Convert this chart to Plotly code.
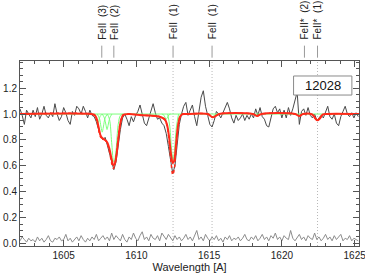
import numpy as np
import plotly.graph_objects as go

# ---------------- data ----------------
flux = [1.04,0.99,0.92,1.03,1.00,0.97,1.03,0.98,1.05,0.96,
        1.00,1.06,0.99,0.97,1.01,0.98,1.08,1.00,0.95,0.98,
        1.05,1.01,0.95,0.92,1.02,0.99,1.06,1.04,1.00,1.06,
        1.02,0.97,1.03,0.99,0.98,0.94,0.88,0.83,0.80,0.82,
        0.76,0.70,0.62,0.57,0.63,0.76,0.88,0.97,1.00,0.96,
        0.91,0.98,0.94,0.99,1.02,1.07,0.99,0.93,0.91,0.97,
        1.03,1.08,1.01,0.96,0.97,0.93,0.91,0.85,0.75,0.63,
        0.54,0.60,0.76,0.92,1.00,1.06,1.09,0.99,1.03,1.07,
        0.98,0.91,1.02,1.13,1.18,1.06,0.99,0.92,0.90,0.95,
        1.02,1.00,0.97,1.01,1.04,1.09,1.04,0.97,0.93,0.99,
        0.95,0.97,1.00,0.95,0.99,0.96,1.00,0.97,1.04,0.99,
        1.05,0.98,0.96,0.91,0.90,0.97,1.04,1.06,1.01,1.04,
        0.97,1.03,0.97,1.05,0.99,1.04,1.10,1.17,0.92,1.02,
        1.04,0.99,1.05,0.99,0.97,1.00,0.95,0.97,0.99,0.97,
        1.02,1.06,0.98,0.96,1.00,0.93,0.91,0.98,1.02,1.06,
        1.00,0.98,1.01,0.97,1.01,0.98]
error = [0.02,0.05,0.03,0.01,0.04,0.02,0.03,0.01,0.05,0.02,0.04,0.01,0.03,0.06,0.02,0.01,0.04,0.03,0.05,0.02,
         0.03,0.07,0.02,0.04,0.01,0.03,0.05,0.02,0.06,0.03,0.01,0.04,0.02,0.05,0.03,0.07,0.02,0.04,0.06,0.03,
         0.05,0.02,0.08,0.03,0.06,0.04,0.02,0.07,0.03,0.01,0.05,0.03,0.08,0.04,0.02,0.06,0.09,0.03,0.05,0.02,
         0.07,0.04,0.03,0.06,0.02,0.08,0.05,0.03,0.07,0.04,0.02,0.06,0.03,0.05,0.02,0.04,0.07,0.03,0.05,0.02,
         0.06,0.10,0.03,0.05,0.02,0.07,0.04,0.02,0.05,0.03,0.06,0.02,0.04,0.01,0.05,0.03,0.06,0.02,0.04,0.03,
         0.05,0.02,0.04,0.07,0.03,0.02,0.05,0.03,0.06,0.02,0.04,0.07,0.03,0.05,0.02,0.06,0.04,0.08,0.03,0.05,
         0.02,0.06,0.04,0.03,0.10,0.04,0.02,0.05,0.07,0.03,0.05,0.02,0.06,0.04,0.03,0.08,0.03,0.05,0.02,0.04,
         0.07,0.03,0.05,0.02,0.06,0.03,0.05,0.07,0.02,0.04,0.03,0.06,0.02,0.04,0.03,0.02]
n = min(len(flux), len(error))
flux, error = flux[:n], error[:n]
wave = list(np.round(1602.0 + 0.15 * np.arange(n), 2))

model_wave = [1602.0,1606.9,1607.1,1607.25,1607.4,1607.55,1607.7,1607.85,1608.0,1608.15,1608.3,1608.42,
              1608.5,1608.6,1608.75,1608.9,1609.05,1609.2,1609.5,1610.5,1611.3,1611.7,1611.95,1612.1,
              1612.25,1612.38,1612.5,1612.6,1612.72,1612.85,1613.0,1613.15,1613.4,1614.9,1615.1,1615.25,
              1615.45,1615.7,1618.0,1618.3,1618.6,1620.9,1621.2,1621.45,1622.1,1622.3,1622.45,1622.6,
              1622.8,1623.0,1625.3]
model_flux = [1.0,1.0,0.995,0.97,0.90,0.83,0.81,0.80,0.78,0.73,0.65,0.605,
              0.61,0.66,0.80,0.93,0.985,0.997,1.0,0.99,0.985,0.975,0.96,0.92,
              0.82,0.69,0.62,0.64,0.76,0.90,0.98,0.998,1.0,1.0,0.985,0.975,
              0.985,1.0,1.0,0.985,1.0,1.0,0.985,1.0,0.995,0.965,0.952,0.965,
              0.995,1.0,1.0]
model2_flux = [1.0,1.0,0.99,0.96,0.88,0.82,0.81,0.80,0.77,0.71,0.62,0.58,
               0.60,0.67,0.81,0.94,0.99,1.0,1.0,0.99,0.985,0.975,0.955,0.91,
               0.79,0.63,0.53,0.57,0.73,0.89,0.98,1.0,1.0,1.0,0.985,0.975,
               0.985,1.0,1.0,0.985,1.0,1.0,0.985,1.0,0.995,0.965,0.952,0.965,
               0.995,1.0,1.0]

comp_waves = [
    [1607.05,1607.2,1607.3,1607.35,1607.4,1607.5,1607.65],
    [1607.3,1607.45,1607.57,1607.65,1607.73,1607.85,1608.0],
    [1607.65,1607.8,1607.92,1607.98,1608.05,1608.17,1608.32],
    [1608.0,1608.15,1608.3,1608.42,1608.47,1608.6,1608.75,1608.9,1609.05],
    [1611.75,1611.9,1612.0,1612.05,1612.12,1612.25,1612.35],
    [1612.15,1612.3,1612.42,1612.52,1612.62,1612.75,1612.9],
    [1614.9,1615.1,1615.2,1615.3,1615.5],
    [1618.0,1618.2,1618.3,1618.4,1618.6],
    [1620.9,1621.1,1621.2,1621.3,1621.5],
    [1622.1,1622.3,1622.45,1622.6,1622.8],
]
comp_fluxes = [
    [1.0,0.98,0.94,0.93,0.94,0.98,1.0],
    [1.0,0.97,0.90,0.86,0.90,0.97,1.0],
    [1.0,0.97,0.91,0.88,0.91,0.97,1.0],
    [1.0,0.96,0.78,0.64,0.63,0.72,0.92,0.99,1.0],
    [1.0,0.99,0.965,0.96,0.97,0.995,1.0],
    [1.0,0.90,0.72,0.64,0.72,0.90,1.0],
    [1.0,0.985,0.978,0.985,1.0],
    [1.0,0.99,0.985,0.99,1.0],
    [1.0,0.99,0.985,0.99,1.0],
    [1.0,0.97,0.955,0.97,1.0],
]

line_labels = ["FeII  (3)", "FeII  (2)", "FeII  (1)", "FeII  (1)", "FeII*  (2)", "FeII*  (1)"]
line_waves = [1607.62, 1608.45, 1612.52, 1615.2, 1621.55, 1622.45]
dotted_waves = [1612.52, 1615.2, 1622.45]
x_range = [1602.0, 1625.3]
y_range = [-0.02, 1.41]

# ---------------- figure ----------------
fig = go.Figure()
fig.add_trace(go.Scatter(x=wave, y=error, mode="lines",
                         line=dict(color="#8c8c8c", width=1), hoverinfo="skip"))
fig.add_trace(go.Scatter(x=wave, y=flux, mode="lines",
                         line=dict(color="#4a4a4a", width=1), hoverinfo="skip"))
fig.add_trace(go.Scatter(x=x_range, y=[1.0, 1.0], mode="lines",
                         line=dict(color="#7dff7d", width=1), hoverinfo="skip"))
for cw, cf in zip(comp_waves, comp_fluxes):
    fig.add_trace(go.Scatter(x=cw, y=cf, mode="lines", line_shape="spline",
                             line=dict(color="#7dff7d", width=1), hoverinfo="skip"))
fig.add_trace(go.Scatter(x=model_wave, y=model2_flux, mode="lines", line_shape="spline",
                         line=dict(color="#ff2a1a", width=1.5, dash="dot"), hoverinfo="skip"))
fig.add_trace(go.Scatter(x=model_wave, y=model_flux, mode="lines", line_shape="spline",
                         line=dict(color="#ff2a1a", width=2), hoverinfo="skip"))

shapes = []
for w in dotted_waves:
    shapes.append(dict(type="line", xref="x", yref="paper", x0=w, x1=w, y0=0, y1=1,
                       line=dict(color="#b8b8b8", width=1, dash="1px,2px"), layer="below"))
annotations = []
for w, lab in zip(line_waves, line_labels):
    shapes.append(dict(type="line", xref="x", yref="paper", x0=w, x1=w, y0=1.018, y1=1.083,
                       line=dict(color="#9a9a9a", width=1)))
    annotations.append(dict(x=w, y=1.105, xref="x", yref="paper", text=lab, showarrow=False,
                            textangle=-90, xanchor="center", yanchor="bottom",
                            font=dict(family="Liberation Sans", size=10, color="#222")))
# label box
shapes.append(dict(type="rect", xref="paper", yref="paper", x0=0.807, x1=0.979, y0=0.816, y1=0.919,
                   line=dict(color="#8a8a8a", width=1), fillcolor="white", layer="above"))
annotations.append(dict(x=0.893, y=0.8675, xref="paper", yref="paper", text="12028", showarrow=False,
                        xanchor="center", yanchor="middle",
                        font=dict(family="Liberation Sans", size=13, color="#111")))

axis_common = dict(showgrid=False, zeroline=False, showline=True, linecolor="#555", linewidth=1,
                   ticks="inside", ticklen=6, tickcolor="#555", mirror="ticks", automargin=False,
                   tickfont=dict(family="Liberation Sans", size=10, color="#222"))
fig.update_layout(
    width=365, height=275,
    margin=dict(l=20, r=6, t=61, b=29, autoexpand=False),
    paper_bgcolor="white", plot_bgcolor="white",
    showlegend=False,
    shapes=shapes, annotations=annotations,
    xaxis=dict(range=x_range, tickvals=[1605, 1610, 1615, 1620, 1625],
               ticktext=["1605", "1610", "1615", "1620", "1625"],
               ticklabeloverflow="allow",
               minor=dict(ticks="inside", ticklen=3, dtick=1, tick0=1602, tickcolor="#555"),
               title=dict(text="Wavelength [A]", standoff=3,
                          font=dict(family="Liberation Sans", size=11, color="#222")),
               **axis_common),
    yaxis=dict(range=y_range, tickvals=[0.0, 0.2, 0.4, 0.6, 0.8, 1.0, 1.2],
               ticktext=["0.0", "0.2", "0.4", "0.6", "0.8", "1.0", "1.2"],
               ticklabeloverflow="allow",
               minor=dict(ticks="inside", ticklen=3, dtick=0.05, tick0=0, tickcolor="#555"),
               **axis_common),
)
# the page body has a default 8px margin; remove it so the figure sits at the window's corner
fig.write_html("out.html", config={"displayModeBar": False},
               post_script="document.body.style.margin='0px';")
